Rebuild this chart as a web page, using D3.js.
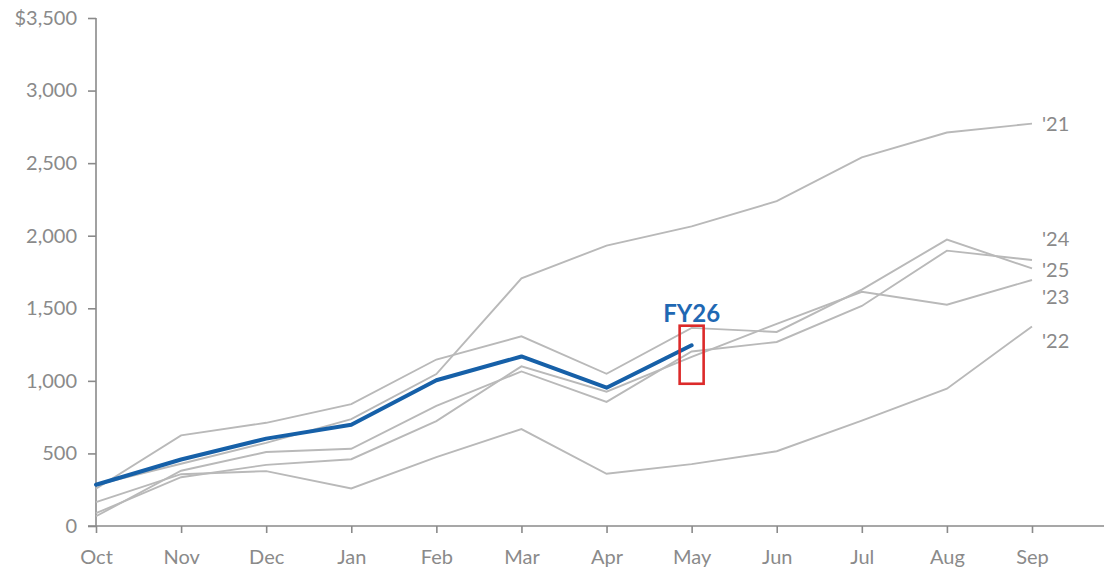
<!DOCTYPE html>
<html>
<head>
<meta charset="utf-8">
<script src="https://cdn.jsdelivr.net/npm/d3@7"></script>
<style>
  body { margin: 0; background: #fff; }
  svg { display: block; font-family: Lato, 'Open Sans', sans-serif; }
</style>
</head>
<body>
<div id="chart"></div>
<script>
// cumulative values, $ billions, by fiscal month
const months = ['Oct', 'Nov', 'Dec', 'Jan', 'Feb', 'Mar', 'Apr', 'May', 'Jun', 'Jul', 'Aug', 'Sep'];
const fy21 = [284, 429, 573, 736, 1047, 1706, 1932, 2064, 2238, 2540, 2711, 2772];
const fy22 = [165, 357, 378, 259, 475, 668, 360, 426, 515, 726, 946, 1375];
const fy23 = [88, 336, 421, 460, 723, 1100, 925, 1165, 1393, 1614, 1525, 1695];
const fy24 = [67, 381, 510, 532, 828, 1065, 855, 1202, 1268, 1516, 1897, 1833];
const fy25 = [257, 624, 711, 840, 1147, 1307, 1049, 1365, 1337, 1629, 1973, 1775];
const fy26 = [284, 458, 602, 697, 1004, 1168, 953, 1245];
const pastYears = [
  {label: "'21", values: fy21, dy: 0},
  {label: "'22", values: fy22, dy: 14},
  {label: "'23", values: fy23, dy: 17},
  {label: "'24", values: fy24, dy: -21},
  {label: "'25", values: fy25, dy: 1}
];
const yTicks = [0, 500, 1000, 1500, 2000, 2500, 3000, 3500];
const highlight = [980, 1380]; // red box range at latest month

const width = 1104;
const height = 571;
const margin = {top: 18, right: 72, bottom: 45, left: 96};

const svg = d3.select('#chart')
    .append('svg')
    .attr('width', width)
    .attr('height', height);

const x = d3.scalePoint()
    .domain(months)
    .range([margin.left, width - margin.right]);

const y = d3.scaleLinear()
    .domain([0, 3500])
    .range([height - margin.bottom, margin.top]);

const axisColor = '#8a8a8a';
const textColor = '#8a8a8a';

// y axis
const yAxis = svg.append('g')
    .attr('transform', 'translate(' + margin.left + ',0)')
    .call(d3.axisLeft(y)
        .tickValues(yTicks)
        .tickSize(8)
        .tickPadding(11)
        .tickFormat(function(d) {
          return (d === 3500 ? '$' : '') + d3.format(',')(d);
        }));
yAxis.select('.domain').remove();
yAxis.append('line')
    .attr('x1', 0).attr('x2', 0)
    .attr('y1', y(3500)).attr('y2', y(0))
    .attr('stroke', axisColor)
    .attr('stroke-width', 1.6);

// x axis
const xAxis = svg.append('g')
    .attr('transform', 'translate(0,' + y(0) + ')')
    .call(d3.axisBottom(x).tickSize(7).tickPadding(17));
xAxis.select('.domain').remove();
xAxis.append('line')
    .attr('x1', margin.left - 8).attr('x2', width)
    .attr('y1', 0).attr('y2', 0)
    .attr('stroke', axisColor)
    .attr('stroke-width', 1.6);

svg.selectAll('.tick line')
    .attr('stroke', axisColor)
    .attr('stroke-width', 1.6);
svg.selectAll('.tick text')
    .attr('fill', textColor)
    .style('font-size', '20px')
    .style('font-family', 'Lato, sans-serif');

const line = d3.line()
    .x(function(d, i) { return x(months[i]); })
    .y(function(d) { return y(d); });

// past years in gray
svg.append('g')
    .selectAll('path')
    .data(pastYears)
    .enter()
    .append('path')
    .attr('fill', 'none')
    .attr('stroke', '#b9b9b9')
    .attr('stroke-width', 1.9)
    .attr('d', function(d) { return line(d.values); });

svg.append('g')
    .selectAll('text')
    .data(pastYears)
    .enter()
    .append('text')
    .attr('x', x('Sep') + 10)
    .attr('y', function(d) { return y(d.values[d.values.length - 1]) + d.dy; })
    .attr('dy', '0.36em')
    .attr('fill', textColor)
    .style('font-size', '20px')
    .text(function(d) { return d.label; });

// current year
svg.append('path')
    .datum(fy26)
    .attr('fill', 'none')
    .attr('stroke', '#1660a8')
    .attr('stroke-width', 4)
    .attr('stroke-linejoin', 'round')
    .attr('stroke-linecap', 'round')
    .attr('d', line);

const lastMonth = months[fy26.length - 1];

svg.append('rect')
    .attr('x', x(lastMonth) - 12)
    .attr('y', y(highlight[1]))
    .attr('width', 24)
    .attr('height', y(highlight[0]) - y(highlight[1]))
    .attr('fill', 'none')
    .attr('stroke', '#dc2a2a')
    .attr('stroke-width', 2.6);

svg.append('text')
    .attr('x', x(lastMonth))
    .attr('y', y(highlight[1]) - 4)
    .attr('text-anchor', 'middle')
    .attr('fill', '#1f68b3')
    .style('font-size', '24px')
    .style('font-weight', 'bold')
    .text('FY26');
</script>
</body>
</html>
